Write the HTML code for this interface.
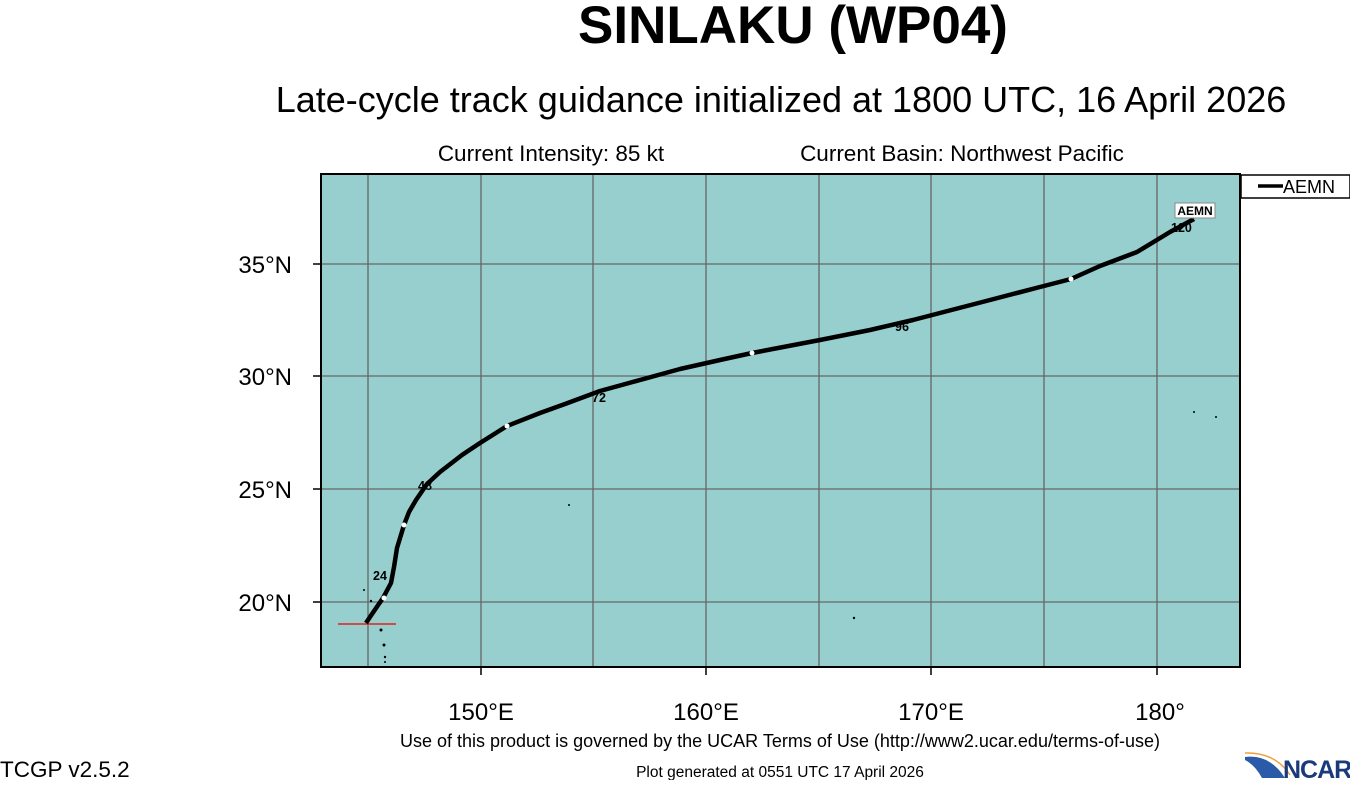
<!DOCTYPE html>
<html><head><meta charset="utf-8"><style>
body{margin:0;background:#fff;width:1350px;height:780px;overflow:hidden;font-family:"Liberation Sans",sans-serif}
</style></head><body>
<svg width="1350" height="780" xmlns="http://www.w3.org/2000/svg" font-family="Liberation Sans, sans-serif">
<text x="793" y="43" font-size="53" font-weight="bold" text-anchor="middle">SINLAKU (WP04)</text>
<text x="781" y="112" font-size="36" text-anchor="middle">Late-cycle track guidance initialized at 1800 UTC, 16 April 2026</text>
<text x="551" y="161" font-size="22.5" text-anchor="middle">Current Intensity: 85 kt</text>
<text x="962" y="161" font-size="22.5" text-anchor="middle">Current Basin: Northwest Pacific</text>
<rect x="321" y="174" width="919" height="493" fill="#97cfcf"/>
<g stroke="#666" stroke-width="1.3">
<line x1="368" y1="174" x2="368" y2="667"/><line x1="481" y1="174" x2="481" y2="667"/><line x1="593" y1="174" x2="593" y2="667"/><line x1="706" y1="174" x2="706" y2="667"/><line x1="819" y1="174" x2="819" y2="667"/><line x1="931" y1="174" x2="931" y2="667"/><line x1="1044" y1="174" x2="1044" y2="667"/><line x1="1157" y1="174" x2="1157" y2="667"/>
<line x1="321" y1="264" x2="1240" y2="264"/><line x1="321" y1="376" x2="1240" y2="376"/><line x1="321" y1="489" x2="1240" y2="489"/><line x1="321" y1="602" x2="1240" y2="602"/>
</g>
<rect x="321" y="174" width="919" height="493" fill="none" stroke="#000" stroke-width="2"/>
<g stroke="#000" stroke-width="1.5">
<line x1="481" y1="667" x2="481" y2="675"/><line x1="706" y1="667" x2="706" y2="675"/><line x1="931" y1="667" x2="931" y2="675"/><line x1="1157" y1="667" x2="1157" y2="675"/>
<line x1="313" y1="264" x2="321" y2="264"/><line x1="313" y1="376" x2="321" y2="376"/><line x1="313" y1="489" x2="321" y2="489"/><line x1="313" y1="602" x2="321" y2="602"/>
</g>
<g font-size="24" text-anchor="end"><text x="292" y="273">35°N</text><text x="292" y="385">30°N</text><text x="292" y="498">25°N</text><text x="292" y="611">20°N</text></g>
<g font-size="24" text-anchor="middle"><text x="481" y="720">150°E</text><text x="706" y="720">160°E</text><text x="931" y="720">170°E</text><text x="1160" y="720">180°</text></g>
<line x1="338" y1="624" x2="396" y2="624" stroke="#e02020" stroke-width="1.5"/>
<g fill="#000"><circle cx="364" cy="590" r="1"/><circle cx="371" cy="601" r="1.2"/><circle cx="381" cy="630" r="1.5"/><circle cx="384" cy="645" r="1.5"/><circle cx="385" cy="657" r="1.2"/><circle cx="385" cy="662" r="1"/><circle cx="569" cy="505" r="1"/><circle cx="854" cy="618" r="1.2"/><circle cx="1194" cy="412" r="1"/><circle cx="1216" cy="417" r="1"/></g>
<polyline fill="none" stroke="#000" stroke-width="4.5" stroke-linejoin="round" points="366,623 372,614 383,598 391,583 394,567 397,548 404,525 409,512 416,500 427,484 440,472 462,455 480,443 507,426 540,413 565,404 600,391 640,380 680,369 720,360 752,353 820,340 870,330 913,320 990,300 1040,287 1071,279 1100,266 1137,252 1170,232 1194,219"/>
<g fill="#fff"><circle cx="384" cy="598" r="2.5"/><circle cx="404" cy="525" r="2.5"/><circle cx="507" cy="426" r="2.5"/><circle cx="752" cy="353" r="2.5"/><circle cx="1071" cy="279" r="2.5"/></g>
<g font-size="12.5" font-weight="bold"><text x="373" y="580">24</text><text x="418" y="490">48</text><text x="592" y="402">72</text><text x="895" y="331">96</text><text x="1171" y="232">120</text></g>
<rect x="1175" y="203" width="40" height="15" fill="#fff" stroke="#888"/>
<text x="1195" y="215" font-size="12" font-weight="bold" text-anchor="middle">AEMN</text>
<rect x="1241" y="175" width="109" height="23" fill="#fff" stroke="#000" stroke-width="1.5"/>
<line x1="1258" y1="186" x2="1283" y2="186" stroke="#000" stroke-width="3.5"/>
<text x="1283" y="193" font-size="18">AEMN</text>
<text x="780" y="747" font-size="18" text-anchor="middle">Use of this product is governed by the UCAR Terms of Use (http://www2.ucar.edu/terms-of-use)</text>
<text x="0" y="777" font-size="22.5">TCGP v2.5.2</text>
<text x="780" y="777" font-size="15.5" text-anchor="middle">Plot generated at 0551 UTC   17 April 2026</text>
<path d="M1245,757 Q1270,754 1285,778 L1262,778 Q1255,765 1245,760 Z" fill="#2a5aa8"/>
<path d="M1245,753 Q1275,752 1290,775" fill="none" stroke="#f0a040" stroke-width="1.5"/>
<text x="1283" y="778" font-size="25" font-weight="bold" fill="#1a3a7a" letter-spacing="-1">NCAR</text>
</svg>
</body></html>
